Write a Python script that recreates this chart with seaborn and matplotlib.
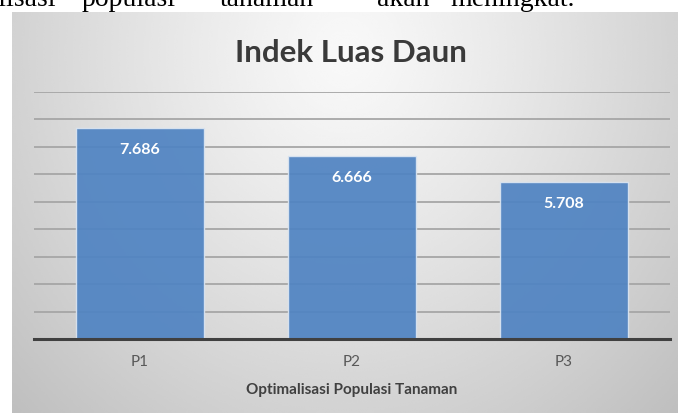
"""
Indek Luas Daun - bar chart
"""
import numpy as np
import matplotlib
matplotlib.use("Agg")
import matplotlib.pyplot as plt
import seaborn as sns

# data
categories = ["P1", "P2", "P3"]
values = [7.686, 6.666, 5.708]
value_labels = ["7.686", "6.666", "5.708"]

title = "Indek Luas Daun"
xlabel = "Optimalisasi Populasi Tanaman"

# potongan teks dokumen di atas grafik
doc_words = ["optimalisasi", "populasi", "tanaman", "akan", "meningkat."]
doc_word_x = [56, 82, 220, 377, 450]

sns.set_style("white")
plt.rcParams['font.family'] = ['Lato', 'DejaVu Sans']

W, H = 678, 414
fig = plt.figure(figsize=(W / 100, H / 100), dpi=100)
fig.patch.set_facecolor("white")

# latar belakang gradasi abu-abu (gaya Excel)
bg_left, bg_top = 12, 13
bg = fig.add_axes([bg_left / W, 0, 1 - bg_left / W, 1 - bg_top / H])
gx, gy = np.meshgrid(np.linspace(0, 1, 400), np.linspace(0, 1, 300))
r = np.sqrt(((gx - 0.5) / 0.5) ** 2 + ((gy - 0.1) / 0.9) ** 2)
shade = 0.975 - 0.15 * r ** 1.2
bg.imshow(shade, cmap="gray", vmin=0, vmax=1, aspect="auto",
          extent=[0, 1, 1, 0], interpolation="bicubic")
bg.set_axis_off()

# sumbu utama
ax_l, ax_r, ax_t, ax_b = 34, 670, 93, 340
ax = fig.add_axes([ax_l / W, 1 - ax_b / H, (ax_r - ax_l) / W, (ax_b - ax_t) / H])
ax.patch.set_alpha(0)

sns.barplot(x=categories, y=values, ax=ax, color="#4f83c2", saturation=1,
            width=0.6, alpha=0.92, edgecolor="#dbe5f1", linewidth=1, zorder=3)

ax.set_ylim(0, 9)
ax.set_xlim(-0.5, 2.5)
ax.set_yticks(range(1, 10))
ax.yaxis.grid(True, color="#a6a6a6", linewidth=1.3, zorder=1)
ax.set_axisbelow(True)
ax.tick_params(axis="y", left=False, labelleft=False)
ax.tick_params(axis="x", length=0, pad=11, labelsize=11, labelcolor="#595959")
for s in ["left", "right", "top"]:
    ax.spines[s].set_visible(False)
ax.spines["bottom"].set_color("#404040")
ax.spines["bottom"].set_linewidth(2.2)
ax.spines["bottom"].set_zorder(4)

ax.set_xlabel(xlabel, fontsize=11, fontweight="bold", color="#404040", labelpad=10)
ax.set_ylabel("")

# label nilai di dalam batang
for i, (v, lab) in enumerate(zip(values, value_labels)):
    ax.annotate(lab, xy=(i, v), xytext=(0, -25), textcoords="offset pixels",
                ha="center", va="baseline", color="white", fontsize=11.5,
                fontweight="bold", zorder=5)

fig.text(351 / W, 1 - 62 / H, title, ha="center", va="baseline",
         fontsize=22.5, fontweight="bold", color="#3a3a3a")

# teks dokumen yang terpotong di bagian atas
for w, x in zip(doc_words, doc_word_x):
    fig.text(x / W, 1 - 6 / H, w, ha="right" if x == doc_word_x[0] else "left",
             va="baseline", fontsize=20, color="black",
             family=["Liberation Serif", "DejaVu Serif"])

fig.savefig("out.png", dpi=100)
